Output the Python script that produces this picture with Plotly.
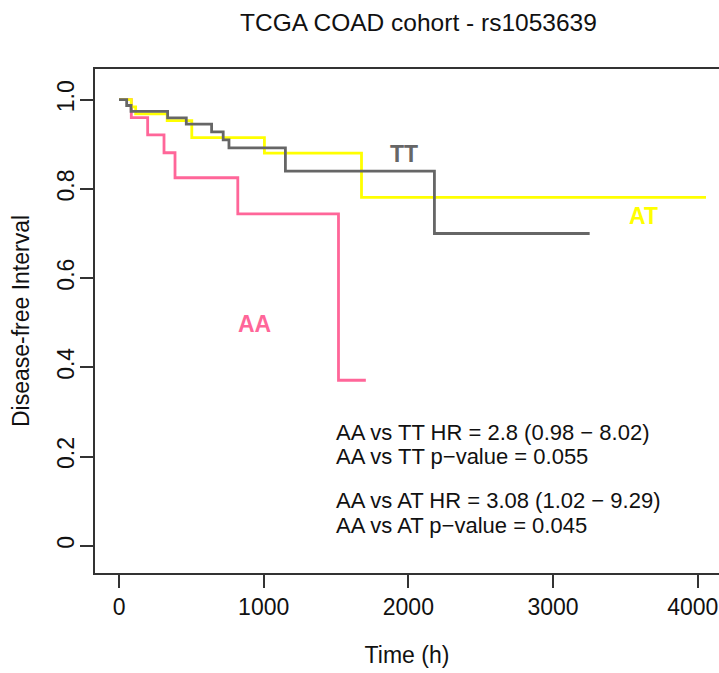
import plotly.graph_objects as go

# ---- data ----
tt_time = [0, 53, 83, 336, 465, 640, 720, 760, 1150, 2180, 3253]
tt_surv = [1.0, 0.987, 0.974, 0.959, 0.945, 0.928, 0.910, 0.892, 0.840, 0.700, 0.700]

at_time = [0, 85, 115, 333, 503, 1005, 1676, 4057]
at_surv = [1.0, 0.984, 0.968, 0.953, 0.915, 0.880, 0.781, 0.781]

aa_time = [0, 85, 198, 311, 387, 821, 1517, 1706]
aa_surv = [1.0, 0.960, 0.921, 0.881, 0.825, 0.744, 0.371, 0.371]

group_names = ["AA", "AT", "TT"]
group_colors = {"AA": "#FF6699", "AT": "#FFFF00", "TT": "#666666"}
label_x = {"AA": 934, "AT": 3627, "TT": 1968}
label_y = {"AA": 0.4975, "AT": 0.740, "TT": 0.879}

x_ticks = [0, 1000, 2000, 3000, 4000]
y_ticks = [0, 0.2, 0.4, 0.6, 0.8, 1.0]
y_ticktext = ["0", "0.2", "0.4", "0.6", "0.8", "1.0"]

stats_lines = [
    "AA vs TT HR = 2.8 (0.98 \u2212 8.02)",
    "AA vs TT p\u2212value = 0.055",
    "AA vs AT HR = 3.08 (1.02 \u2212 9.29)",
    "AA vs AT p\u2212value = 0.045",
]
stats_y = [0.254, 0.200, 0.1005, 0.0464]
stats_x = 1487

title_text = "TCGA COAD cohort - rs1053639"
FONT = "Liberation Sans, Arial, sans-serif"

series = {"AA": (aa_time, aa_surv), "AT": (at_time, at_surv), "TT": (tt_time, tt_surv)}

fig = go.Figure()
for g in group_names:
    t, s = series[g]
    fig.add_trace(go.Scatter(x=t, y=s, mode="lines", line_shape="hv",
                             line=dict(color=group_colors[g], width=2.8),
                             showlegend=False, hoverinfo="skip"))

for g in group_names:
    fig.add_annotation(x=label_x[g], y=label_y[g], xref="x", yref="y", text="<b>%s</b>" % g,
                       showarrow=False, font=dict(family=FONT, size=23, color=group_colors[g]),
                       xanchor="center", yanchor="middle")

for txt, yy in zip(stats_lines, stats_y):
    fig.add_annotation(x=stats_x, y=yy, xref="x", yref="y", text=txt, showarrow=False,
                       font=dict(family=FONT, size=22, color="#111"),
                       xanchor="left", yanchor="middle")

fig.add_annotation(x=0.519, y=1.0913, xref="paper", yref="paper", text=title_text,
                   showarrow=False, font=dict(family=FONT, size=24.5, color="#111"),
                   xanchor="center", yanchor="middle")

# main axis: all tick marks, labels for all but the last (edge) tick
main_ticktext = [str(v) for v in x_ticks[:-1]] + [""]
edge_ticktext = [str(x_ticks[-1])]

fig.update_layout(
    width=719, height=673,
    margin=dict(l=95, r=0, t=69, b=100, autoexpand=False),
    paper_bgcolor="white", plot_bgcolor="white",
    font=dict(family=FONT, color="#111"),
    xaxis=dict(range=[-166, 4147], tickvals=x_ticks, ticktext=main_ticktext, ticks="outside", ticklen=13,
               tickwidth=1.5, tickcolor="#333", showline=True, linecolor="#333", linewidth=1.5,
               mirror=True, showgrid=False, zeroline=False,
               automargin=False,
               tickfont=dict(family=FONT, size=23, color="#111"),
               title=dict(text="Time (h)", font=dict(family=FONT, size=23, color="#111"), standoff=28)),
    xaxis2=dict(range=[-166, 4147], overlaying="x", side="bottom", tickvals=x_ticks[-1:],
                ticktext=edge_ticktext, ticks="outside", ticklen=13, tickcolor="rgba(0,0,0,0)",
                showline=False, showgrid=False, zeroline=False, automargin=False,
                ticklabelshift=-5,
                tickfont=dict(family=FONT, size=23, color="#111")),
    yaxis=dict(range=[-0.0612, 1.0688], tickvals=y_ticks, ticktext=y_ticktext, ticks="outside",
               ticklen=13, tickwidth=1.5, tickcolor="#333", showline=True, linecolor="#333",
               linewidth=1.5, mirror=False, showgrid=False, zeroline=False, tickangle=-90,
               ticklabelstandoff=-3, automargin=False,
               tickfont=dict(family=FONT, size=23, color="#111"),
               title=dict(text="Disease-free Interval", font=dict(family=FONT, size=23, color="#111"), standoff=17)),
)
# an empty trace so the overlay axis is drawn
fig.add_trace(go.Scatter(x=[], y=[], xaxis="x2", yaxis="y", showlegend=False, hoverinfo="skip"))

fig.write_html("out.html")
